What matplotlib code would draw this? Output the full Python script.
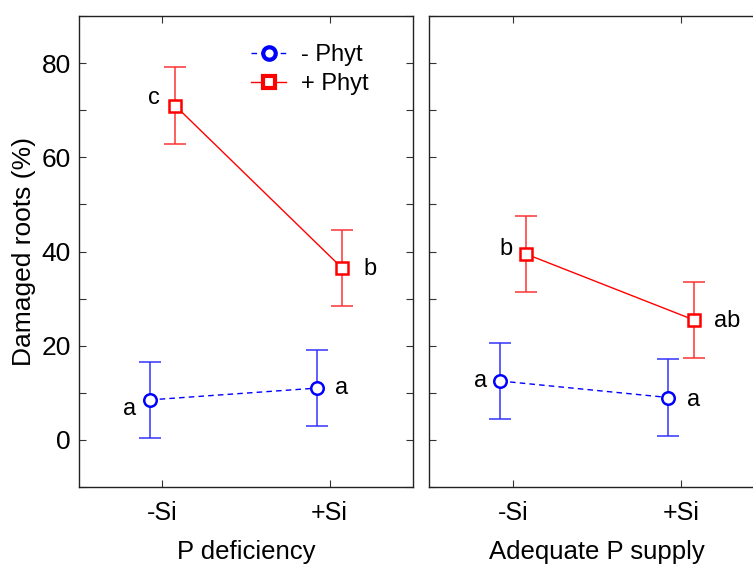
import matplotlib
matplotlib.use('Agg')
import matplotlib.pyplot as plt
from matplotlib.ticker import MultipleLocator

matplotlib.rcParams['font.family'] = ['Liberation Sans', 'DejaVu Sans']

# ---- data ----
si_labels = ['-Si', '+Si']
panel_titles = ['P deficiency', 'Adequate P supply']

# P deficiency
pdef_minus_mean = [8.5, 11.0]
pdef_minus_err = [8.1, 8.1]
pdef_plus_mean = [71.0, 36.5]
pdef_plus_err = [8.1, 8.1]
pdef_minus_letters = ['a', 'a']
pdef_plus_letters = ['c', 'b']

# Adequate P supply
padq_minus_mean = [12.5, 9.0]
padq_minus_err = [8.1, 8.1]
padq_plus_mean = [39.5, 25.5]
padq_plus_err = [8.1, 8.1]
padq_minus_letters = ['a', 'a']
padq_plus_letters = ['b', 'ab']

# letter offsets in pixels (left point, right point)
off_minus = [[(-20, -9), (25, 0)], [(-20, 0), (25, -2)]]
off_plus = [[(-21, 8), (28, -1)], [(-20, 5), (34, -1)]]

####################################
fig = plt.figure(figsize=(7.53, 5.68), dpi=100)
ax1 = fig.add_axes([0.1049, 0.1426, 0.4436, 0.8292])
ax2 = fig.add_axes([0.5697, 0.1426, 0.4462, 0.8292])

dx = 0.075
xs = [0, 1]

panels = [
    (ax1, pdef_minus_mean, pdef_minus_err, pdef_plus_mean, pdef_plus_err,
     pdef_minus_letters, pdef_plus_letters),
    (ax2, padq_minus_mean, padq_minus_err, padq_plus_mean, padq_plus_err,
     padq_minus_letters, padq_plus_letters),
]

for i, (ax, mm, me, pm, pe, ml, pl) in enumerate(panels):
    xm = [x - dx for x in xs]
    xp = [x + dx for x in xs]
    ax.errorbar(xm, mm, yerr=me, fmt='none', ecolor='#3333ff', elinewidth=1.1,
                capsize=8, capthick=1.1, zorder=2)
    ax.errorbar(xp, pm, yerr=pe, fmt='none', ecolor='#ff3333', elinewidth=1.1,
                capsize=8, capthick=1.1, zorder=2)
    ax.plot(xm, mm, color='blue', lw=1.0, ls=(0, (4, 3)), marker='o', ms=9,
            mfc='white', mec='blue', mew=1.8, label='- Phyt', zorder=3)
    ax.plot(xp, pm, color='red', lw=1.0, ls='-', marker='s', ms=9,
            mfc='white', mec='red', mew=1.8, label='+ Phyt', zorder=3)

    for j in range(2):
        ax.annotate(ml[j], xy=(xm[j], mm[j]), xytext=off_minus[i][j],
                    textcoords='offset pixels', ha='center', va='center', fontsize=17)
        ax.annotate(pl[j], xy=(xp[j], pm[j]), xytext=off_plus[i][j],
                    textcoords='offset pixels', ha='center', va='center', fontsize=17)

    ax.set_xlim(-0.5, 1.5)
    ax.set_ylim(-10, 90)
    ax.set_xticks(xs)
    ax.set_xticklabels(si_labels, fontsize=18)
    ax.yaxis.set_major_locator(MultipleLocator(20))
    ax.yaxis.set_minor_locator(MultipleLocator(10))
    ax.tick_params(axis='both', which='both', direction='in', top=True, right=True,
                   length=5, width=0.8, color='#333333')
    ax.tick_params(axis='x', pad=10)
    ax.tick_params(axis='y', labelsize=19, pad=6)
    ax.set_xlabel(panel_titles[i], fontsize=18.5, labelpad=11)
    for sp in ax.spines.values():
        sp.set_linewidth(1.0)
        sp.set_color('#222222')

ax1.set_ylabel('Damaged roots (%)', fontsize=19, labelpad=4)
ax2.tick_params(axis='y', labelleft=False)

# legend with thicker marker edges
leg = ax1.legend(loc='upper left', bbox_to_anchor=(0.515, 0.94), frameon=False,
                 fontsize=17, handlelength=1.5, handletextpad=0.6, borderpad=0,
                 borderaxespad=0, labelspacing=0.3)
for h in leg.legend_handles:
    h.set_markeredgewidth(3)
    h.set_markersize(9)

fig.savefig('out.png', dpi=100)
